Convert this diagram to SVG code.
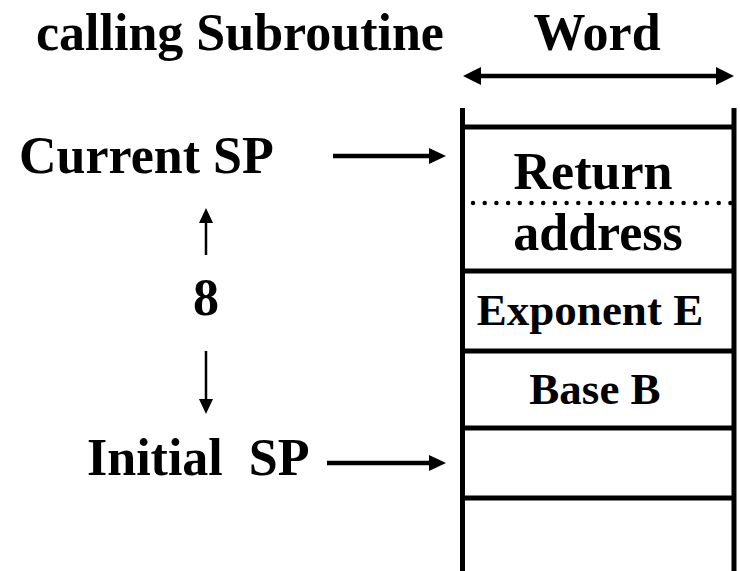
<svg xmlns="http://www.w3.org/2000/svg" width="740" height="571" viewBox="0 0 740 571" font-family="'Liberation Serif', 'Times New Roman', Times, serif">
  <style>
    text { font-family: "Liberation Serif", "Times New Roman", Times, serif; font-weight: 700; fill: #000; }
    .big { font-size: 52px; }
    .mid { font-size: 45px; }
    .ln { stroke: #000; stroke-width: 5; fill: none; }
    .ar { stroke: #000; fill: none; }
  </style>
  <rect width="740" height="571" fill="#fff"/>
  <g id="title">
    <text class="big" x="36" y="50">calling Subroutine</text>
    <text class="big" x="597" y="50" text-anchor="middle">Word</text>
  </g>
  <g id="stack">
    <line class="ln" x1="462.5" y1="108" x2="462.5" y2="571"/>
    <line class="ln" x1="734" y1="108" x2="734" y2="571"/>
    <line class="ln" x1="462" y1="127" x2="734" y2="127"/>
    <line class="ln" x1="462" y1="271" x2="734" y2="271"/>
    <line class="ln" x1="462" y1="351" x2="734" y2="351"/>
    <line class="ln" x1="462" y1="428" x2="734" y2="428"/>
    <line class="ln" x1="462" y1="498" x2="734" y2="498"/>
  </g>
  <g id="cell-return">
    <text class="big" x="593" y="189" text-anchor="middle">Return</text>
    <line x1="473" y1="203" x2="731" y2="203" stroke="#000" stroke-width="4.5" stroke-linecap="round" stroke-dasharray="0 11.7"/>
    <text class="big" x="598" y="250" text-anchor="middle">address</text>
  </g>
  <g id="cell-exponent">
    <text class="mid" x="590" y="325" text-anchor="middle">Exponent E</text>
  </g>
  <g id="cell-base">
    <text class="mid" x="595" y="404" text-anchor="middle">Base B</text>
  </g>
  <g id="label-current">
    <text class="big" x="19" y="173">Current SP</text>
  </g>
  <g id="label-8">
    <text class="big" x="206" y="315" text-anchor="middle">8</text>
  </g>
  <g id="label-initial">
    <text class="big" x="87" y="475" style="white-space:pre" xml:space="preserve">Initial  SP</text>
  </g>
  <g id="connectors">
    <line class="ar" x1="478" y1="76" x2="719" y2="76" stroke-width="4.5"/>
    <polygon points="463,76 481,67 481,85"/>
    <polygon points="734,76 716,67 716,85"/>
    <line class="ar" x1="333" y1="156" x2="432" y2="156" stroke-width="4.5"/>
    <polygon points="446,156 429,148 429,164"/>
    <line class="ar" x1="327" y1="463" x2="432" y2="463" stroke-width="4.5"/>
    <polygon points="446,463 429,455 429,471"/>
    <line class="ar" x1="206" y1="255" x2="206" y2="220" stroke-width="2.5"/>
    <polygon points="206,208 199,223 213,223"/>
    <line class="ar" x1="206" y1="351" x2="206" y2="402" stroke-width="2.5"/>
    <polygon points="206,414 199,399 213,399"/>
  </g>
</svg>
